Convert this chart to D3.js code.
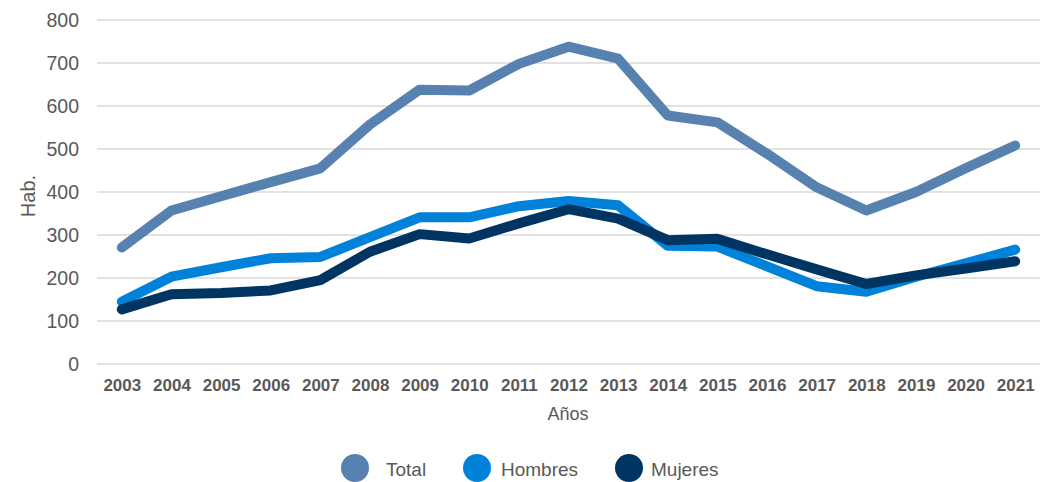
<!DOCTYPE html>
<html>
<head>
<meta charset="utf-8">
<script src="https://cdn.jsdelivr.net/npm/d3@7"></script>
<style>
  html, body { margin: 0; padding: 0; background: #fff; }
  svg { display: block; font-family: 'Liberation Sans', Arial, sans-serif; }
</style>
</head>
<body>
<svg id="chart" width="1046" height="482"></svg>
<script>
// ---- Data ----
const YEARS = ['2003','2004','2005','2006','2007','2008','2009','2010','2011','2012',
               '2013','2014','2015','2016','2017','2018','2019','2020','2021'];
const TOTAL    = [271, 357, 390, 423, 455, 557, 638, 636, 698, 738, 710, 578, 562, 489, 411, 357, 400, 455, 508];
const HOMBRES  = [145, 203, 225, 246, 249, 295, 341, 341, 367, 379, 369, 275, 273, 227, 181, 168, 203, 234, 266];
const MUJERES  = [127, 162, 165, 171, 195, 261, 302, 292, 327, 360, 338, 288, 291, 255, 220, 186, 206, 222, 239];
const Y_TICKS  = [0, 100, 200, 300, 400, 500, 600, 700, 800];

const SERIES = [
  { name: 'Total',   values: TOTAL,   color: '#5782b0' },
  { name: 'Hombres', values: HOMBRES, color: '#0082da' },
  { name: 'Mujeres', values: MUJERES, color: '#003462' },
];

// ---- Layout ----
const svg = d3.select('#chart');
const plot = { left: 97, right: 1040, top: 20, bottom: 364 };

const x = d3.scalePoint().domain(YEARS).range([plot.left, plot.right]).padding(0.5);
const y = d3.scaleLinear().domain([0, 800]).range([plot.bottom, plot.top]);

// gridlines
svg.append('g')
  .selectAll('line')
  .data(Y_TICKS)
  .join('line')
  .attr('x1', plot.left).attr('x2', plot.right)
  .attr('y1', d => y(d)).attr('y2', d => y(d))
  .attr('stroke', '#d9d9d9').attr('stroke-width', 1.5);

// y axis labels
const yAxis = svg.append('g')
  .attr('transform', `translate(${plot.left - 18},0)`)
  .call(d3.axisLeft(y).tickValues(Y_TICKS).tickSize(0).tickPadding(0));
yAxis.select('.domain').remove();
yAxis.selectAll('text')
  .attr('font-size', 19.5).attr('fill', '#595959')
  .attr('font-family', "'Liberation Sans', Arial, sans-serif");

// x axis labels
const xAxis = svg.append('g')
  .attr('transform', `translate(0,${plot.bottom + 15})`)
  .call(d3.axisBottom(x).tickSize(0).tickPadding(0));
xAxis.select('.domain').remove();
xAxis.selectAll('text')
  .attr('font-size', 17).attr('font-weight', 'bold').attr('fill', '#595959')
  .attr('font-family', "'Liberation Sans', Arial, sans-serif");

// axis titles
svg.append('text')
  .attr('x', 568).attr('y', 420)
  .attr('text-anchor', 'middle')
  .attr('font-size', 18).attr('fill', '#595959')
  .text('Años');

svg.append('text')
  .attr('transform', 'translate(35,196) rotate(-90)')
  .attr('text-anchor', 'middle')
  .attr('font-size', 20).attr('fill', '#595959')
  .text('Hab.');

// lines
const line = d3.line()
  .x((d, i) => x(YEARS[i]))
  .y(d => y(d));

svg.append('g')
  .selectAll('path')
  .data(SERIES)
  .join('path')
  .attr('d', d => line(d.values))
  .attr('fill', 'none')
  .attr('stroke', d => d.color)
  .attr('stroke-width', 10)
  .attr('stroke-linejoin', 'round')
  .attr('stroke-linecap', 'round');

// legend
const legendPos = [
  { cx: 355, tx: 386 },
  { cx: 477, tx: 501 },
  { cx: 629, tx: 651 },
];
const legend = svg.append('g')
  .selectAll('g')
  .data(SERIES)
  .join('g');
legend.append('circle')
  .attr('cx', (d, i) => legendPos[i].cx)
  .attr('cy', 468)
  .attr('r', 14)
  .attr('fill', d => d.color);
legend.append('text')
  .attr('x', (d, i) => legendPos[i].tx)
  .attr('y', 469)
  .attr('dy', '0.35em')
  .attr('font-size', 19).attr('fill', '#595959')
  .text(d => d.name);
</script>
</body>
</html>
